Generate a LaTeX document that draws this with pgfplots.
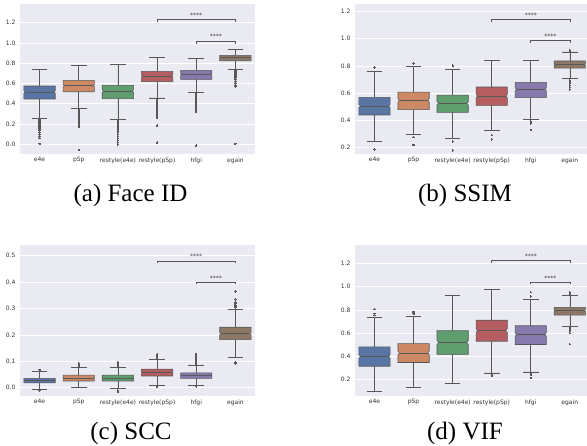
\documentclass[border=0pt]{standalone}
\usepackage{pgfplots}
\pgfplotsset{compat=1.18}
\usepgfplotslibrary{statistics}
\usepackage{fontspec}
\setmainfont{Liberation Serif}
\newfontfamily\dejavu{DejaVu Sans}
\definecolor{sbblue}{HTML}{5975A4}
\definecolor{sborange}{HTML}{CC8963}
\definecolor{sbgreen}{HTML}{5F9E6E}
\definecolor{sbred}{HTML}{B55D60}
\definecolor{sbpurple}{HTML}{857AAB}
\definecolor{sbbrown}{HTML}{8D7866}
\definecolor{lc}{HTML}{585858}
\definecolor{bg}{HTML}{EAEAF2}
\definecolor{tc}{HTML}{333333}

\tikzset{stars/.style={font=\dejavu\fontsize{6}{7}\selectfont, text=tc}}
\pgfplotsset{
  sbaxis/.style={
    scale only axis,
    anchor=north west,
    axis background/.style={fill=bg},
    axis line style={draw=none},
    major tick length=0pt,
    ymajorgrids,
    grid style={white, line width=0.7pt},
    xmin=-0.5, xmax=5.5,
    xtick={0,1,2,3,4,5},
    xticklabels={e4e,pSp,restyle(e4e),restyle(pSp),hfgi,egain},
    tick label style={font=\dejavu\fontsize{6}{7}\selectfont, text=tc},
    /pgf/number format/assume math mode=true,
    yticklabel style={/pgf/number format/.cd,fixed,fixed zerofill,precision=1,/tikz/.cd, xshift=-1pt},
    boxplot/draw direction=y,
    boxplot/box extend=0.8,
    boxplot/whisker extend=0.4,
    boxplot/draw/box/.code={%
      \begingroup
      \pgfkeys{/pgf/fpu=false}%
      \pgfmathsetmacro\qlo{\pgfplotsboxplotvalue{lower quartile}}%
      \pgfmathsetmacro\qhi{\pgfplotsboxplotvalue{upper quartile}}%
      \pgfmathsetmacro\qmed{\pgfplotsboxplotvalue{median}}%
      \pgfmathsetmacro\nlo{\qmed-0.10*(\qhi-\qlo)}%
      \pgfmathsetmacro\nhi{\qmed+0.10*(\qhi-\qlo)}%
      \draw[/pgfplots/boxplot/every box/.try]
        (boxplot box cs:\qlo,0) -- (boxplot box cs:\qlo,1) -- (boxplot box cs:\nlo,1)
        -- (boxplot box cs:\qmed,0.95) -- (boxplot box cs:\nhi,1) -- (boxplot box cs:\qhi,1)
        -- (boxplot box cs:\qhi,0) -- (boxplot box cs:\nhi,0) -- (boxplot box cs:\qmed,0.05)
        -- (boxplot box cs:\nlo,0) -- cycle;
      \endgroup
    },
    boxplot/draw/median/.code={%
      \draw[/pgfplots/boxplot/every median/.try]
        (boxplot box cs:\pgfplotsboxplotvalue{median},0.05) --
        (boxplot box cs:\pgfplotsboxplotvalue{median},0.95);
    },
  },
  sbbox/.style={draw=lc, line width=0.6pt, mark=diamond*, mark size=0.8pt,
    mark options={fill=lc, draw=lc, line width=0pt}},
  brk/.style={lc, line width=0.6pt, mark=none},
}
\newcommand\bx[8]{%
  \addplot[sbbox, fill=#7, boxplot prepared={draw position=#1, lower whisker=#2,
    lower quartile=#3, median=#4, upper quartile=#5, upper whisker=#6}]
    table[row sep=\\, y index=0] {data\\ #8};
}

\begin{document}
\begin{tikzpicture}
\useasboundingbox (0,0) rectangle (587pt,-446pt);

% (a) Face ID
\begin{axis}[sbaxis, at={(20pt,-4pt)}, width=235pt, height=150pt,
  ymin=-0.096, ymax=1.385, ytick={0,0.2,0.4,0.6,0.8,1.0,1.2}]
\bx{0}{0.256}{0.447}{0.516}{0.575}{0.740}{sbblue}{0.24\\ 0.23\\ 0.22\\ 0.21\\ 0.20\\ 0.19\\ 0.18\\ 0.17\\ 0.16\\ 0.15\\ 0.14\\ 0.12\\ 0.10\\ 0.08\\ 0.06\\ 0.003\\}
\bx{1}{0.355}{0.519}{0.579}{0.631}{0.776}{sborange}{0.345\\ 0.33\\ 0.32\\ 0.31\\ 0.30\\ 0.29\\ 0.28\\ 0.27\\ 0.26\\ 0.25\\ 0.24\\ 0.23\\ 0.22\\ 0.21\\ 0.20\\ 0.19\\ 0.18\\ 0.17\\ -0.056\\}
\bx{2}{0.247}{0.450}{0.526}{0.582}{0.789}{sbgreen}{0.24\\ 0.23\\ 0.22\\ 0.21\\ 0.20\\ 0.19\\ 0.18\\ 0.17\\ 0.16\\ 0.15\\ 0.14\\ 0.13\\ 0.12\\ 0.10\\ 0.08\\ 0.06\\ 0.04\\ 0.02\\ 0.0\\}
\bx{3}{0.457}{0.618}{0.674}{0.720}{0.858}{sbred}{0.45\\ 0.44\\ 0.43\\ 0.42\\ 0.41\\ 0.40\\ 0.39\\ 0.38\\ 0.37\\ 0.36\\ 0.35\\ 0.34\\ 0.33\\ 0.32\\ 0.31\\ 0.30\\ 0.29\\ 0.28\\ 0.27\\ 0.26\\ 0.184\\ 0.016\\}
\bx{4}{0.513}{0.641}{0.694}{0.730}{0.848}{sbpurple}{0.50\\ 0.49\\ 0.48\\ 0.47\\ 0.46\\ 0.45\\ 0.44\\ 0.43\\ 0.42\\ 0.41\\ 0.40\\ 0.39\\ 0.38\\ 0.37\\ 0.36\\ 0.35\\ 0.34\\ 0.33\\ 0.32\\ -0.013\\}
\bx{5}{0.743}{0.825}{0.855}{0.878}{0.934}{sbbrown}{0.735\\ 0.725\\ 0.715\\ 0.705\\ 0.695\\ 0.685\\ 0.675\\ 0.665\\ 0.655\\ 0.64\\ 0.62\\ 0.60\\ 0.58\\ 0.57\\ 0.003\\}
\addplot[brk] coordinates {(3,1.210) (3,1.233) (5,1.233) (5,1.210)};
\addplot[brk] coordinates {(4,0.993) (4,1.016) (5,1.016) (5,0.993)};
\node[stars] at (axis cs:4,1.275) {****};
\node[stars] at (axis cs:4.5,1.062) {****};
\end{axis}

% (b) SSIM
\begin{axis}[sbaxis, at={(355pt,-4pt)}, width=232pt, height=150pt, xmax=5.44,
  ymin=0.154, ymax=1.254, ytick={0.2,0.4,0.6,0.8,1.0,1.2}]
\bx{0}{0.249}{0.440}{0.506}{0.569}{0.760}{sbblue}{0.789\\ 0.188\\}
\bx{1}{0.295}{0.479}{0.547}{0.608}{0.794}{sborange}{0.816\\ 0.278\\ 0.220\\}
\bx{2}{0.268}{0.459}{0.525}{0.586}{0.772}{sbgreen}{0.801\\ 0.246\\ 0.180\\}
\bx{3}{0.325}{0.511}{0.579}{0.645}{0.838}{sbred}{0.293\\ 0.261\\}
\bx{4}{0.408}{0.567}{0.628}{0.679}{0.838}{sbpurple}{0.391\\ 0.378\\ 0.330\\}
\bx{5}{0.706}{0.784}{0.811}{0.836}{0.902}{sbbrown}{0.911\\ 0.696\\ 0.684\\ 0.672\\ 0.658\\ 0.643\\ 0.628\\}
\addplot[brk] coordinates {(3,1.124) (3,1.141) (5,1.141) (5,1.124)};
\addplot[brk] coordinates {(4,0.968) (4,0.985) (5,0.985) (5,0.968)};
\node[stars] at (axis cs:4,1.172) {****};
\node[stars] at (axis cs:4.5,1.016) {****};
\end{axis}

% (c) SCC
\begin{axis}[sbaxis, at={(20pt,-245pt)}, width=235pt, height=151pt,
  ymin=-0.032, ymax=0.541, ytick={0,0.1,0.2,0.3,0.4,0.5}]
\bx{0}{-0.008}{0.018}{0.027}{0.035}{0.061}{sbblue}{0.067\\ -0.012\\}
\bx{1}{0.0}{0.025}{0.035}{0.047}{0.077}{sborange}{0.082\\ 0.086\\ 0.091\\}
\bx{2}{-0.003}{0.025}{0.034}{0.047}{0.077}{sbgreen}{0.083\\ 0.087\\ 0.092\\ 0.097\\ -0.011\\ -0.015\\}
\bx{3}{0.008}{0.044}{0.058}{0.070}{0.106}{sbred}{0.112\\ 0.116\\ 0.120\\ 0.124\\ 0.127\\ 0.003\\}
\bx{4}{0.008}{0.035}{0.046}{0.056}{0.084}{sbpurple}{0.088\\ 0.092\\ 0.096\\ 0.100\\ 0.104\\ 0.108\\ 0.112\\ 0.116\\ 0.120\\ 0.124\\ 0.128\\ 0.005\\}
\bx{5}{0.114}{0.182}{0.205}{0.229}{0.296}{sbbrown}{0.097\\ 0.091\\ 0.303\\ 0.308\\ 0.313\\ 0.318\\ 0.322\\ 0.335\\ 0.365\\}
\addplot[brk] coordinates {(3,0.473) (3,0.481) (5,0.481) (5,0.473)};
\addplot[brk] coordinates {(4,0.392) (4,0.400) (5,0.400) (5,0.392)};
\node[stars] at (axis cs:4,0.497) {****};
\node[stars] at (axis cs:4.5,0.416) {****};
\end{axis}

% (d) VIF
\begin{axis}[sbaxis, at={(355pt,-245pt)}, width=232pt, height=151pt, xmax=5.44,
  ymin=0.059, ymax=1.358, ytick={0.2,0.4,0.6,0.8,1.0,1.2}]
\bx{0}{0.102}{0.315}{0.398}{0.482}{0.732}{sbblue}{0.755\\ 0.766\\ 0.806\\}
\bx{1}{0.131}{0.347}{0.430}{0.510}{0.743}{sborange}{0.766\\ 0.775\\ 0.783\\}
\addplot[sbbox, fill=sbgreen, boxplot prepared={draw position=2, lower whisker=0.166,
    lower quartile=0.418, median=0.519, upper quartile=0.620, upper whisker=0.921}]
    coordinates {};
\bx{3}{0.257}{0.530}{0.622}{0.711}{0.976}{sbred}{0.246\\ 0.234\\}
\bx{4}{0.266}{0.502}{0.588}{0.663}{0.893}{sbpurple}{0.252\\ 0.240\\ 0.214\\ 0.915\\ 0.953\\}
\bx{5}{0.657}{0.755}{0.792}{0.821}{0.921}{sbbrown}{0.947\\ 0.936\\ 0.645\\ 0.630\\ 0.615\\ 0.600\\ 0.505\\}
\addplot[brk] coordinates {(3,1.203) (3,1.223) (5,1.223) (5,1.203)};
\addplot[brk] coordinates {(4,1.019) (4,1.036) (5,1.036) (5,1.019)};
\node[stars] at (axis cs:4,1.262) {****};
\node[stars] at (axis cs:4.5,1.074) {****};
\end{axis}

\node[font=\fontsize{25}{30}\selectfont, anchor=base] at (130.5pt,-202pt) {(a) Face ID};
\node[font=\fontsize{25}{30}\selectfont, anchor=base] at (465pt,-202pt) {(b) SSIM};
\node[font=\fontsize{25}{30}\selectfont, anchor=base] at (131pt,-440pt) {(c) SCC};
\node[font=\fontsize{25}{30}\selectfont, anchor=base] at (465pt,-440pt) {(d) VIF};
\end{tikzpicture}
\end{document}
